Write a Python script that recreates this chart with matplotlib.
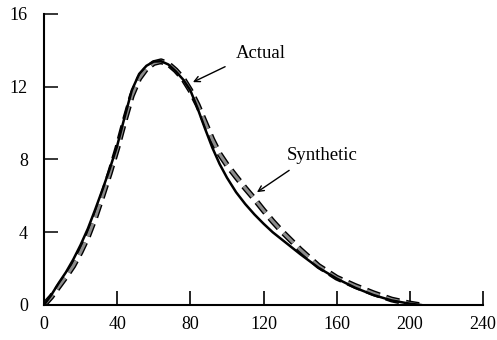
import numpy as np
import matplotlib
matplotlib.use('Agg')
import matplotlib.pyplot as plt
import matplotlib.patheffects as pe

# curves
actual_x = [0, 4, 8, 12, 16, 20, 24, 28, 32, 36, 40, 44, 48, 52, 56, 60, 64, 68, 72,
            76, 80, 84, 88, 92, 96, 100, 105, 110, 115, 120, 125, 130, 135, 140,
            150, 160, 170, 180, 190, 200, 206]
actual_y = [0, 0.55, 1.2, 1.8, 2.5, 3.3, 4.2, 5.25, 6.35, 7.5, 8.75, 10.3, 11.8, 12.7,
            13.15, 13.38, 13.4, 13.22, 12.85, 12.4, 11.8, 10.8, 9.7, 8.65, 7.75, 7.0,
            6.2, 5.55, 4.98, 4.47, 4.0, 3.6, 3.2, 2.8, 2.05, 1.45, 0.95, 0.55, 0.25,
            0.07, 0]

synth_x = [0, 4, 8, 12, 16, 20, 24, 28, 32, 36, 40, 44, 48, 52, 56, 60, 64, 68, 72,
           76, 80, 84, 88, 92, 96, 100, 105, 110, 115, 120, 125, 130, 135, 140,
           150, 160, 170, 180, 190, 200, 205]
synth_y = [0, 0.45, 1.0, 1.55, 2.15, 2.9, 3.75, 4.8, 6.0, 7.25, 8.6, 10.1, 11.5, 12.45,
           13.0, 13.3, 13.4, 13.25, 12.9, 12.45, 11.8, 11.0, 10.05, 9.1, 8.3, 7.7,
           7.05, 6.42, 5.83, 5.2, 4.6, 4.05, 3.55, 3.05, 2.15, 1.5, 1.05, 0.65, 0.3,
           0.08, 0]

x_ticks = [0, 40, 80, 120, 160, 200, 240]
y_ticks = [0, 4, 8, 12, 16]

plt.rcParams['font.family'] = ['Liberation Serif', 'DejaVu Serif']

fig = plt.figure(figsize=(4.97, 3.40), dpi=100)
ax = fig.add_axes([0.0885, 0.103, 0.8835, 0.856])

# synthetic: hollow-looking dashes (gray core, black outline)
ax.plot(synth_x, synth_y, color='#8c8c8c', lw=2.2, dashes=(4.5, 2.2),
        solid_capstyle='butt', dash_capstyle='butt',
        path_effects=[pe.Stroke(linewidth=4.2, foreground='black'), pe.Normal()])
ax.plot(actual_x, actual_y, color='black', lw=1.8, solid_joinstyle='round')

ax.set_xlim(0, 240)
ax.set_ylim(0, 16)
ax.set_xticks(x_ticks)
ax.set_yticks(y_ticks)
for s in ['top', 'right']:
    ax.spines[s].set_visible(False)
for s in ['left', 'bottom']:
    ax.spines[s].set_linewidth(1.5)
ax.tick_params(axis='x', direction='in', length=10, width=1.2, pad=8, labelsize=13)
ax.tick_params(axis='y', direction='in', length=10, width=1.1, pad=11.5, labelsize=13)

ax.annotate('', xy=(81.4, 12.25), xytext=(99, 13.1),
            arrowprops=dict(arrowstyle='->', lw=1, color='black', shrinkA=0, shrinkB=0))
ax.text(105, 13.8, 'Actual', fontsize=13.5, ha='left', va='center')
ax.annotate('', xy=(116.4, 6.2), xytext=(134, 7.4),
            arrowprops=dict(arrowstyle='->', lw=1, color='black', shrinkA=0, shrinkB=0))
ax.text(132.8, 8.2, 'Synthetic', fontsize=13.5, ha='left', va='center')

fig.savefig('out.png', dpi=100)
